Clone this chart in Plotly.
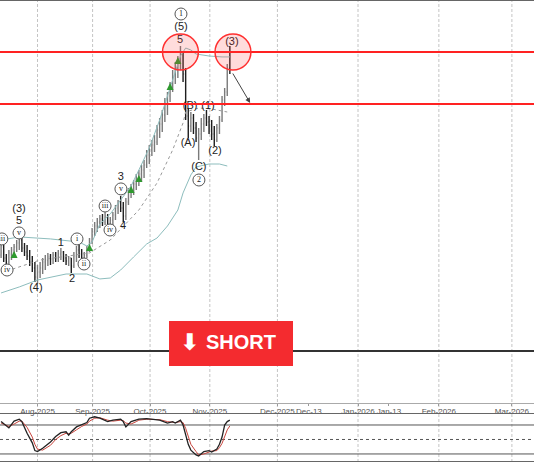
import plotly.graph_objects as go

# bar index 0 = first trading day of Aug-2025 (future part of the axis is in calendar days)
bar_x = list(range(-14, 75))
opens = [38.78, 39.38, 38.55, 38.25, 38.85, 39.15, 39.38, 39.68, 39.90, 39.30, 39.00, 38.70, 38.25, 37.80,
         37.13, 37.50, 37.80, 38.25, 38.40, 38.63, 38.48, 38.78, 38.55, 38.85,
         39.00, 38.55, 38.33, 38.55, 37.95, 38.70, 39.15, 38.85, 38.55, 38.78,
         39.23, 39.75, 40.50, 40.95, 41.25, 41.48, 41.25, 41.70, 41.10, 41.40,
         41.78, 42.30, 42.68, 42.30, 41.70, 42.75, 43.50, 43.80, 44.10, 44.55,
         44.85, 45.15, 45.53, 46.28, 46.65, 47.03, 47.25, 48.15, 48.60, 49.28,
         50.10, 50.70, 51.45, 52.20, 52.80, 53.40, 54.00, 52.35, 49.20, 48.45,
         49.05, 48.30, 47.55, 47.85, 48.60, 49.05, 48.75, 48.30, 47.85, 47.40,
         48.30, 48.90, 50.40, 51.00, 52.80]
highs = [39.68, 39.53, 38.85, 39.15, 39.38, 39.60, 39.90, 40.13, 40.05, 39.68, 39.53, 39.15, 38.70, 38.25,
         38.03, 38.25, 38.55, 38.78, 38.93, 38.85, 39.00, 39.00, 39.15, 39.30,
         39.08, 38.85, 38.70, 38.55, 39.00, 39.45, 39.60, 39.23, 39.00, 39.45,
         40.05, 40.80, 41.25, 41.55, 41.78, 41.85, 42.08, 41.85, 41.63, 42.00,
         42.53, 42.90, 43.20, 42.75, 43.05, 43.80, 44.10, 44.40, 44.85, 45.15,
         45.53, 45.90, 46.65, 47.03, 47.40, 47.78, 48.53, 49.05, 49.65, 50.55,
         51.00, 51.75, 52.65, 53.25, 53.70, 54.45, 54.00, 52.80, 49.80, 49.50,
         49.35, 48.75, 48.30, 49.05, 49.35, 49.65, 49.20, 48.90, 48.45, 48.60,
         49.20, 50.70, 51.30, 53.10, 54.45]
lows = [38.55, 38.25, 37.80, 37.95, 38.40, 38.70, 39.00, 39.15, 39.00, 38.70, 38.40, 37.95, 37.50, 36.75,
        36.60, 37.05, 37.35, 37.65, 37.95, 38.03, 38.10, 38.25, 38.25, 38.40,
        38.25, 38.03, 37.95, 37.43, 37.80, 38.25, 38.55, 38.25, 38.25, 38.55,
        39.00, 39.60, 40.20, 40.50, 40.80, 40.95, 41.03, 40.80, 40.73, 40.95,
        41.40, 41.85, 42.00, 41.25, 41.40, 42.53, 43.05, 43.28, 43.65, 43.95,
        44.25, 44.55, 45.30, 45.60, 46.20, 46.50, 47.03, 47.55, 48.00, 48.75,
        49.28, 50.25, 51.00, 51.60, 52.05, 52.65, 51.75, 48.90, 47.55, 48.00,
        47.85, 47.25, 45.90, 47.40, 48.00, 48.45, 47.85, 47.40, 46.95, 47.25,
        47.85, 48.75, 49.95, 50.70, 52.35]
closes = [39.45, 38.55, 38.25, 38.93, 39.15, 39.38, 39.68, 39.90, 39.30, 39.00, 38.70, 38.25, 37.80, 37.13,
          37.50, 37.80, 38.25, 38.40, 38.63, 38.48, 38.78, 38.55, 38.85, 39.00,
          38.55, 38.33, 38.55, 37.95, 38.70, 39.15, 38.85, 38.55, 38.78, 39.23,
          39.75, 40.50, 40.95, 41.25, 41.48, 41.25, 41.70, 41.10, 41.40, 41.78,
          42.30, 42.68, 42.30, 41.70, 42.75, 43.50, 43.80, 44.10, 44.55, 44.85,
          45.15, 45.53, 46.28, 46.65, 47.03, 47.25, 48.15, 48.60, 49.28, 50.10,
          50.70, 51.45, 52.20, 52.80, 53.40, 54.00, 52.35, 49.20, 48.45, 49.05,
          48.30, 47.55, 47.85, 48.60, 49.05, 48.75, 48.30, 47.85, 47.40, 48.30,
          48.90, 50.40, 51.00, 52.80, 52.65]

# envelope / moving average lines
upper_x = [-14, -7, 5, 16, 19, 21, 24, 28, 32, 36, 39, 43, 47, 51, 55, 57, 59, 61, 66, 71, 74]
upper = [39.90, 40.13, 39.98, 39.75, 39.45, 39.75, 41.10, 41.85, 42.90, 43.95, 45.15, 46.80,
         48.90, 51.30, 53.70, 54.30, 54.15, 53.85, 53.70, 53.63, 53.63]
lower_x = [-14, -7, 0, 11, 19, 24, 28, 32, 37, 42, 46, 50, 54, 56, 59, 61, 66, 70, 73]
lower = [35.93, 36.38, 36.90, 37.35, 37.35, 36.98, 37.05, 37.65, 38.63, 39.60, 40.05, 40.95,
         42.15, 43.43, 44.78, 45.38, 45.60, 45.60, 45.45]
ma_x = [-14, 1, 20, 28, 39, 46, 52, 56, 57, 62, 67, 73]
ma = [37.43, 38.40, 38.93, 39.90, 42.15, 44.18, 46.65, 48.68, 49.50, 49.80, 49.73, 49.50]

# buy signals
up_x = [-9, 20, 36, 39, 51, 54]
up_y = [39.08, 39.60, 43.95, 44.78, 51.68, 53.63]

# levels
red_levels = [54.0, 50.1]
black_level = 31.58

# wave labels
txt_x = [-7.1, -7.1, -0.6, 9.0, 13.3, 32.1, 32.9, 55.2, 54.8, 58.7, 57.9, 62.1, 65.6, 68.3, 74.8]
txt_y = [42.23, 41.33, 36.30, 39.68, 36.98, 44.63, 40.95, 55.88, 54.90, 49.95, 47.18, 45.38, 49.95, 46.58, 54.75]
txt = ["(3)", "5", "(4)", "1", "2", "3", "4", "(5)", "5", "(B)", "(A)", "(C)", "(1)", "(2)", "(3)"]
circ_x = [-13.7, -11.7, -7.1, 15.2, 17.9, 26.0, 27.9, 32.1, 55.2, 62.1]
circ_y = [39.98, 37.65, 40.43, 39.98, 38.10, 42.45, 40.65, 43.73, 56.85, 44.40]
circ_t = ["iii", "iv", "v", "i", "ii", "iii", "iv", "v", "1", "2"]

# oscillator
osc_x = [-14, -12, -11, -9, -7, -6, -4, -2, -1, 0, 2, 5, 7, 9, 11, 12, 13, 15, 17, 19,
         20, 22, 24, 27, 29, 32, 33, 34, 36, 38, 39, 42, 44, 47, 50, 52, 53, 55, 56, 57,
         58, 59, 61, 62, 64, 66, 67, 69, 70, 71, 72, 73, 74]
osc_fast = [87, 77, 74, 88, 92, 87, 63, 43, 27, 25, 32, 45, 56, 64, 66, 59, 66, 76, 80, 85,
            94, 97, 94, 87, 90, 92, 87, 76, 87, 90, 92, 93, 92, 90, 84, 87, 84, 90, 80, 60,
            40, 28, 18, 16, 25, 27, 24, 30, 40, 55, 80, 87, 90]
osc_slow = [84, 80, 77, 82, 88, 88, 75, 55, 40, 30, 28, 38, 50, 58, 63, 62, 63, 70, 77, 82,
            88, 94, 95, 90, 88, 90, 89, 84, 82, 87, 90, 92, 92, 91, 87, 86, 85, 87, 85, 73,
            55, 40, 25, 18, 20, 25, 26, 27, 33, 42, 58, 70, 78]
osc_levels = [80, 20]

# date axis
tick_pos = [0, 21.2, 43.3, 66.3, 92.3, 104.4, 123.3, 135.2, 154.4, 182.5]
tick_txt = ["Aug-2025", "Sep-2025", "Oct-2025", "Nov-2025", "Dec-2025", "Dec-13",
            "Jan-2026", "Jan-13", "Feb-2026", "Mar-2026"]
grid_pos = [0, 21.2, 43.3, 66.3, 92.3, 123.3, 154.4, 182.5]

# target arrow
arrow_from = (74.8, 52.5)
arrow_to = (81.8, 50.18)

fig = go.Figure()

fig.add_trace(go.Scatter(x=upper_x, y=upper, mode="lines", line=dict(color="#8dbdbd", width=1)))
fig.add_trace(go.Scatter(x=lower_x, y=lower, mode="lines", line=dict(color="#8dbdbd", width=1)))
fig.add_trace(go.Scatter(x=ma_x, y=ma, mode="lines", line=dict(color="#999", width=1, dash="dot")))

fig.add_trace(go.Ohlc(x=bar_x, open=opens, high=highs, low=lows, close=closes,
                      increasing=dict(line=dict(color="#7a7a7a", width=1.4)),
                      decreasing=dict(line=dict(color="#1e1e1e", width=1.4)),
                      tickwidth=0.3))

fig.add_trace(go.Scatter(x=up_x, y=up_y, mode="markers",
                         marker=dict(symbol="arrow-up", size=7, color="#2e9a2e")))

fig.add_trace(go.Scatter(x=txt_x, y=txt_y, mode="text", text=txt,
                         textfont=dict(family="Liberation Sans", size=11, color="#222")))
fig.add_trace(go.Scatter(x=circ_x, y=circ_y, mode="markers+text", text=circ_t,
                         textposition="middle center",
                         marker=dict(symbol="circle", size=12, color="white",
                                     line=dict(color="#555", width=1)),
                         textfont=dict(family="Liberation Serif", size=8, color="#222")))

# oscillator panel
fig.add_trace(go.Scatter(x=osc_x, y=osc_slow, mode="lines", xaxis="x2", yaxis="y2",
                         line=dict(color="#c8443c", width=1)))
fig.add_trace(go.Scatter(x=osc_x, y=osc_fast, mode="lines", xaxis="x2", yaxis="y2",
                         line=dict(color="#222", width=1.3)))

shapes = []
for g in grid_pos:
    shapes.append(dict(type="line", xref="x", yref="paper", x0=g, x1=g, y0=0, y1=1,
                       line=dict(color="#c4c4c4", width=1, dash="3px,2px"), layer="below"))
for lv in red_levels:
    shapes.append(dict(type="line", xref="paper", yref="y", x0=0, x1=1, y0=lv, y1=lv,
                       line=dict(color="#ff2222", width=2)))
shapes.append(dict(type="line", xref="paper", yref="y", x0=0, x1=1, y0=black_level, y1=black_level,
                   line=dict(color="#333", width=2)))
for lv in osc_levels:
    shapes.append(dict(type="line", xref="paper", yref="y2", x0=0, x1=1, y0=lv, y1=lv,
                       line=dict(color="#555", width=1), layer="below"))
shapes.append(dict(type="line", xref="paper", yref="y2", x0=0, x1=1, y0=50, y1=50,
                   line=dict(color="#555", width=1, dash="dot"), layer="below"))
# highlight circles at the two tops
for cx in (55.0, 75.2):
    shapes.append(dict(type="circle", xref="x", yref="y", x0=cx - 6.9, x1=cx + 6.9,
                       y0=54.0 - 1.35, y1=54.0 + 1.35,
                       fillcolor="rgba(255,60,60,0.18)", line=dict(color="#ff3030", width=1.5)))
# top border
shapes.append(dict(type="line", xref="paper", yref="paper", x0=0, x1=1, y0=1, y1=1,
                   line=dict(color="#666", width=2)))
# SHORT box
shapes.append(dict(type="rect", xref="paper", yref="paper", x0=0.3165, x1=0.5487,
                   y0=0.2078, y1=0.3052, fillcolor="#f42b2f", line=dict(width=0), layer="above"))

fig.add_annotation(x=arrow_to[0], y=arrow_to[1], ax=arrow_from[0], ay=arrow_from[1],
                   xref="x", yref="y", axref="x", ayref="y", text="", showarrow=True,
                   arrowhead=2, arrowsize=1, arrowwidth=1, arrowcolor="#444")
fig.add_annotation(x=0.452, y=0.2597, xref="paper", yref="paper", text="<b>SHORT</b>",
                   showarrow=False, xanchor="center", yanchor="middle",
                   font=dict(family="Liberation Sans", size=20, color="white"))
fig.add_annotation(x=0.354, y=0.2597, xref="paper", yref="paper", text="<b>⬇</b>",
                   showarrow=False, xanchor="center", yanchor="middle",
                   font=dict(family="DejaVu Sans", size=23, color="white"))

fig.update_layout(
    width=534, height=462, margin=dict(l=0, r=0, t=0, b=0),
    paper_bgcolor="white", plot_bgcolor="white", showlegend=False,
    shapes=shapes,
    xaxis=dict(domain=[0, 1], range=[-14.42, 191], anchor="y", showgrid=False, zeroline=False,
               tickmode="array", tickvals=tick_pos, ticktext=tick_txt, ticks="outside",
               ticklen=2, tickcolor="#999", tickangle=0, ticklabelstandoff=-2,
               tickfont=dict(family="Liberation Sans", size=8, color="#555"),
               showline=True, linecolor="#aaa", linewidth=1,
               rangeslider=dict(visible=False), automargin=False),
    yaxis=dict(domain=[0.1277, 1], range=[27.675, 57.9], showgrid=False, zeroline=False,
               showticklabels=False),
    xaxis2=dict(domain=[0, 1], range=[-14.42, 191], anchor="y2", showgrid=False, zeroline=False,
                showticklabels=False, showline=True, mirror=True, linecolor="#666", linewidth=1),
    yaxis2=dict(domain=[0.0022, 0.1039], range=[5.48, 102.77], showgrid=False, zeroline=False,
                showticklabels=False),
)

fig.write_html("out.html", config={"displayModeBar": False},
               post_script="document.body.style.margin='0';")
